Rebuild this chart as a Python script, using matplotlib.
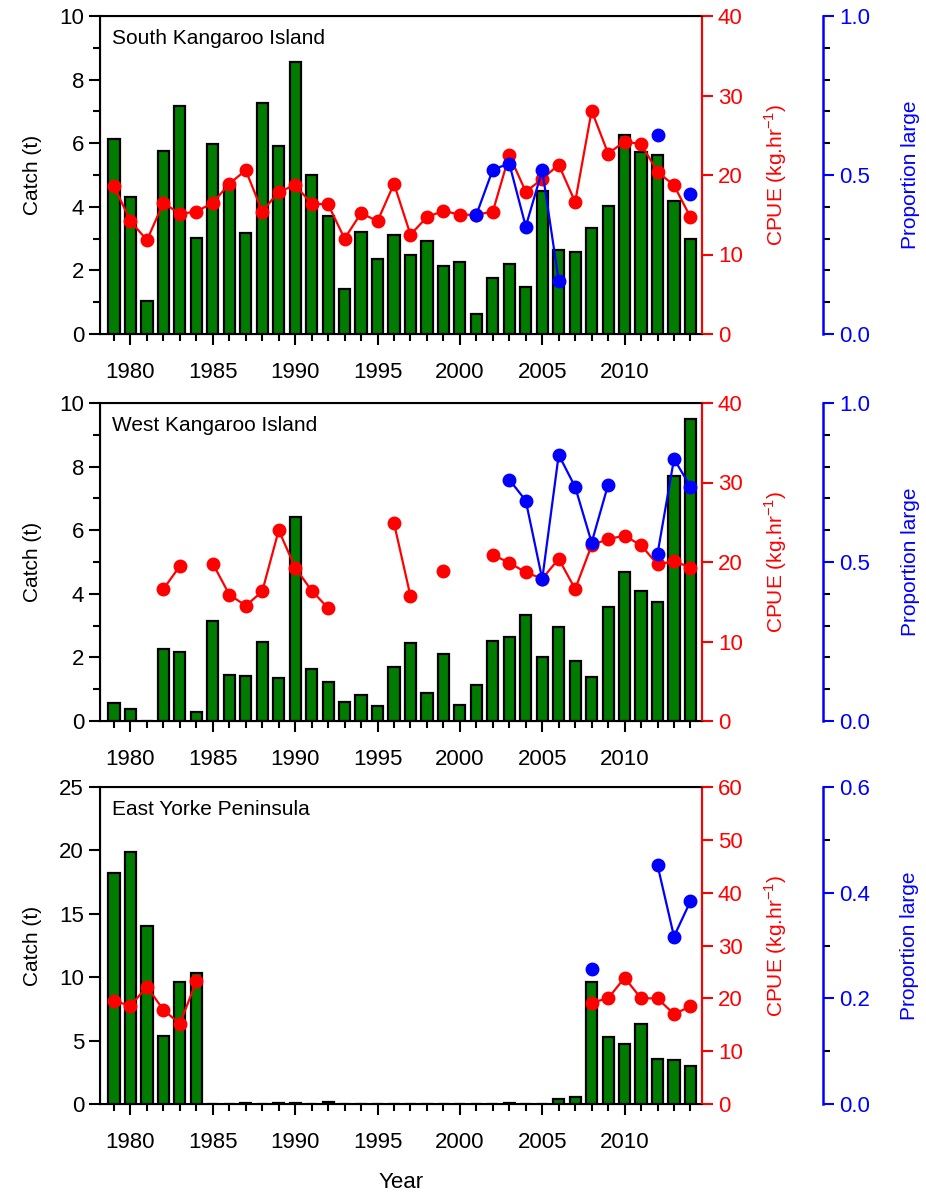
import matplotlib
matplotlib.use("Agg")
import matplotlib.pyplot as plt
from matplotlib.ticker import MultipleLocator, FormatStrFormatter
import numpy as np

plt.rcParams['font.family'] = ['Liberation Sans', 'DejaVu Sans']
plt.rcParams['mathtext.fontset'] = 'custom'
plt.rcParams['mathtext.rm'] = 'Liberation Sans'

nan = np.nan
years = np.arange(1979, 2015)

# South Kangaroo Island
ski_catch = [6.12, 4.31, 1.05, 5.75, 7.16, 3.03, 5.98, 4.65, 3.17, 7.25,
             5.91, 8.55, 4.99, 3.72, 1.43, 3.20, 2.37, 3.10, 2.49, 2.94,
             2.15, 2.25, 0.62, 1.75, 2.21, 1.47, 4.50, 2.63, 2.57, 3.32,
             4.01, 6.25, 5.73, 5.63, 4.17, 3.00]
ski_cpue = [18.6, 14.2, 11.8, 16.5, 15.1, 15.4, 16.5, 18.9, 20.6, 15.4,
            17.9, 18.7, 16.4, 16.3, 12.0, 15.2, 14.2, 18.9, 12.5, 14.7,
            15.5, 15.0, 15.0, 15.4, 22.5, 17.9, 19.5, 21.3, 16.6, 28.1,
            22.7, 24.2, 23.9, 20.4, 18.7, 14.7]
ski_prop = [nan] * 22 + [0.375, 0.517, 0.536, 0.338, 0.515, 0.168, nan,
                         nan, nan, nan, nan, 0.626, nan, 0.441]

# West Kangaroo Island
wki_catch = [0.56, 0.38, 0.0, 2.26, 2.17, 0.29, 3.13, 1.45, 1.42, 2.49,
             1.36, 6.41, 1.65, 1.23, 0.61, 0.83, 0.47, 1.70, 2.45, 0.87,
             2.12, 0.49, 1.14, 2.52, 2.63, 3.33, 2.01, 2.96, 1.88, 1.39,
             3.59, 4.69, 4.08, 3.74, 7.71, 9.50]
wki_cpue = [nan, nan, nan, 16.6, 19.5, nan, 19.8, 15.9, 14.5, 16.3,
            24.0, 19.3, 16.4, 14.2, nan, nan, nan, 24.9, 15.7, nan,
            18.9, nan, nan, 20.9, 19.9, 18.7, 17.9, 20.4, 16.6, 22.1,
            22.9, 23.3, 22.1, 19.7, 20.1, 19.3]
wki_prop = [nan] * 24 + [0.759, 0.693, 0.446, 0.837, 0.736, 0.561, 0.743,
                         nan, nan, 0.526, 0.824, 0.737]

# East Yorke Peninsula
eyp_catch = [18.2, 19.9, 14.0, 5.33, 9.66, 10.3, 0.0, 0.0, 0.1, 0.0,
             0.1, 0.05, 0.0, 0.15, 0.0, 0.0, 0.0, 0.0, 0.0, 0.0,
             0.0, 0.0, 0.0, 0.0, 0.1, 0.0, 0.0, 0.42, 0.52, 9.63,
             5.30, 4.72, 6.33, 3.57, 3.49, 2.99]
eyp_cpue = [19.5, 18.6, 22.2, 17.8, 15.2, 23.2] + [nan] * 23 + \
           [19.2, 20.0, 23.9, 20.0, 20.0, 17.0, 18.5]
eyp_prop = [nan] * 29 + [0.256, nan, nan, nan, 0.452, 0.317, 0.384]

panels = [
    ("South Kangaroo Island", ski_catch, ski_cpue, ski_prop, 10, 2, 1, 40, 10, 1.0, 0.5, 0.1),
    ("West Kangaroo Island", wki_catch, wki_cpue, wki_prop, 10, 2, 1, 40, 10, 1.0, 0.5, 0.1),
    ("East Yorke Peninsula", eyp_catch, eyp_cpue, eyp_prop, 25, 5, None, 60, 10, 0.6, 0.2, 0.1),
]

fig = plt.figure(figsize=(9.26, 12), dpi=100)
W, H = 926.0, 1200.0
boxes = [(16, 334), (403, 721), (787, 1104)]
left, right = 100, 702
fs = 16
lfs = 15

for (name, catch, cpue, prop, cmax, cmaj, cmin, rmax, rmaj, pmax, pmaj, pmin), (top, bot) in zip(panels, boxes):
    ax = fig.add_axes([left / W, 1 - bot / H, (right - left) / W, (bot - top) / H])
    ax.bar(years, catch, width=0.68, color='#007d00', edgecolor='black', linewidth=1.6, zorder=2)
    ax.set_xlim(1978.15, 2014.7)
    ax.set_ylim(0, cmax)
    ax.yaxis.set_major_locator(MultipleLocator(cmaj))
    if cmin:
        ax.yaxis.set_minor_locator(MultipleLocator(cmin))
    ax.xaxis.set_major_locator(MultipleLocator(5))
    ax.xaxis.set_minor_locator(MultipleLocator(1))
    ax.tick_params(axis='both', which='major', length=8, width=1.5, labelsize=fs)
    ax.tick_params(axis='both', which='minor', length=5, width=1.5)
    ax.tick_params(axis='x', pad=12)
    ax.set_ylabel("Catch (t)", fontsize=lfs, labelpad=12)
    for s in ax.spines.values():
        s.set_linewidth(1.5)
    ax.text(0.02, 0.93, name, transform=ax.transAxes, fontsize=lfs, va='center', ha='left')

    # CPUE on the first right-hand axis
    ax2 = ax.twinx()
    ax2.plot(years, cpue, color='red', marker='o', ms=9, lw=1.6, zorder=3)
    ax2.set_ylim(0, rmax)
    ax2.yaxis.set_major_locator(MultipleLocator(rmaj))
    ax2.spines['right'].set_color('red')
    ax2.spines['right'].set_linewidth(1.5)
    ax2.tick_params(axis='y', colors='red', length=8, width=1.5, labelsize=fs)
    ax2.set_ylabel("CPUE (kg.hr$^{\\mathrm{-1}}$)", color='red', fontsize=lfs, labelpad=14)

    # proportion large on an offset axis further right
    ax3 = ax.twinx()
    ax3.spines['right'].set_position(('axes', 1.201))
    ax3.spines['right'].set_color('blue')
    ax3.spines['right'].set_linewidth(1.8)
    for s in ['top', 'bottom', 'left']:
        ax3.spines[s].set_visible(False)
    ax3.plot(years, prop, color='blue', marker='o', ms=9, lw=1.6, zorder=4)
    ax3.set_ylim(0, pmax)
    ax3.yaxis.set_major_locator(MultipleLocator(pmaj))
    ax3.yaxis.set_minor_locator(MultipleLocator(pmin))
    ax3.tick_params(axis='y', which='major', colors='blue', length=8, width=1.5, labelsize=fs)
    ax3.tick_params(axis='y', which='minor', color='black', length=5, width=1.5)
    ax3.yaxis.set_major_formatter(FormatStrFormatter('%.1f'))
    ax3.set_ylabel("Proportion large", color='blue', fontsize=lfs, labelpad=22)

    ax.set_zorder(ax3.get_zorder() - 2)
    ax.patch.set_visible(False)
    ax2.patch.set_visible(False)
    ax3.patch.set_visible(False)
    last_ax = ax

last_ax.set_xlabel("Year", fontsize=lfs + 1, labelpad=14)

fig.savefig("out.png", dpi=100)
